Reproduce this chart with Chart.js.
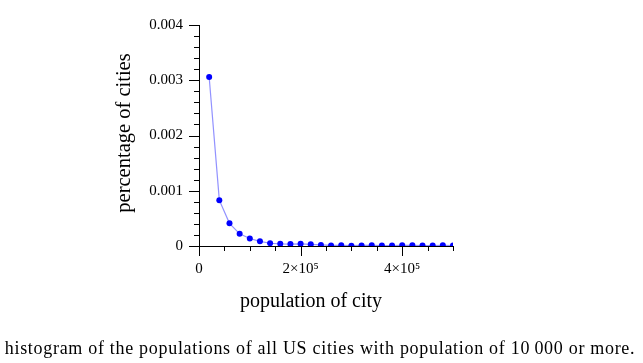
<!DOCTYPE html>
<html>
<head>
<meta charset="utf-8">
<script src="https://cdn.jsdelivr.net/npm/chart.js@4"></script>
<style>
  html, body { margin: 0; padding: 0; background: #fff; }
</style>
</head>
<body>
<canvas id="chart" width="643" height="363"></canvas>
<script>
// Histogram of US city populations (bins of 20 000)
const populations = [20000, 40000, 60000, 80000, 100000, 120000, 140000, 160000, 180000, 200000,
                     220000, 240000, 260000, 280000, 300000, 320000, 340000, 360000, 380000, 400000,
                     420000, 440000, 460000, 480000, 500000];
const shares = [0.00306, 0.00083, 0.00041, 0.00022, 0.000135, 0.000085, 0.00005, 0.00004, 0.000035, 0.00004,
                0.00003, 0.00002, 0.00001, 0.000012, 0.000005, 0.00001, 0.000012, 0.000008, 0.000008, 0.000012,
                0.000012, 0.000008, 0.000008, 0.000012, 0.000008];

const xLabelValues = [0, 200000, 400000];
const xLabelTexts = ['0', '2×10⁵', '4×10⁵'];
const yLabelValues = [0, 0.001, 0.002, 0.003, 0.004];
const yLabelTexts = ['0', '0.001', '0.002', '0.003', '0.004'];

const xTitle = 'population of city';
const yTitle = 'percentage of cities';
const caption = 'histogram of the populations of all US cities with population of 10\u2009000 or more.';

const SERIF = '"Liberation Serif", "DejaVu Serif", serif';

function labelIndex(value, values, eps) {
    return values.findIndex(v => Math.abs(v - value) < eps);
}

// --- Tick marks and titles ---

const axisDecor = {
    id: 'axisDecor',
    afterDraw(chart) {
        const { ctx, scales: { x, y } } = chart;
        ctx.save();
        ctx.strokeStyle = '#000';
        ctx.lineWidth = 1;
        ctx.beginPath();
        x.ticks.forEach(t => {
            const px = Math.round(x.getPixelForValue(t.value)) + 0.5;
            const major = labelIndex(t.value, xLabelValues, 1) >= 0;
            ctx.moveTo(px, x.top);
            ctx.lineTo(px, x.top + (major ? 10 : 5));
        });
        y.ticks.forEach(t => {
            const py = Math.round(y.getPixelForValue(t.value)) + 0.5;
            const major = labelIndex(t.value, yLabelValues, 1e-7) >= 0;
            ctx.moveTo(y.right, py);
            ctx.lineTo(y.right - (major ? 10 : 5), py);
        });
        ctx.stroke();

        ctx.fillStyle = '#000';
        ctx.textAlign = 'center';
        ctx.textBaseline = 'middle';
        ctx.font = '20px ' + SERIF;
        ctx.fillText(xTitle, 311, 302);

        ctx.textBaseline = 'alphabetic';
        ctx.font = '18px ' + SERIF;
        ctx.letterSpacing = '0.7px';
        ctx.fillText(caption, 320, 354);
        ctx.letterSpacing = '0px';

        ctx.translate(125, 133);
        ctx.rotate(-Math.PI / 2);
        ctx.textBaseline = 'middle';
        ctx.font = '20.5px ' + SERIF;
        ctx.fillText(yTitle, 0, 0);
        ctx.restore();
    }
};

const ctx = document.getElementById('chart').getContext('2d');
new Chart(ctx, {
    type: 'line',
    data: {
        datasets: [{
            data: populations.map((p, i) => ({ x: p, y: shares[i] })),
            borderColor: 'rgba(110, 110, 255, 0.75)',
            borderWidth: 1.2,
            pointBackgroundColor: '#0000ff',
            pointBorderColor: '#0000ff',
            pointRadius: 3,
            pointBorderWidth: 0,
            tension: 0,
        }]
    },
    options: {
        responsive: false,
        animation: false,
        layout: { padding: { left: 0, top: 25, right: 190, bottom: 0 } },
        plugins: {
            legend: { display: false },
            tooltip: { enabled: false },
        },
        scales: {
            x: {
                type: 'linear',
                min: 0,
                max: 500000,
                afterFit: s => { s.height = 117; },
                grid: { display: false, drawTicks: false },
                border: { display: true, color: '#000', width: 1 },
                ticks: {
                    stepSize: 50000,
                    autoSkip: false,
                    maxRotation: 0,
                    padding: 14,
                    color: '#000',
                    font: { family: SERIF, size: 15 },
                    callback: v => {
                        const i = labelIndex(v, xLabelValues, 1);
                        return i >= 0 ? xLabelTexts[i] : '';
                    }
                }
            },
            y: {
                type: 'linear',
                min: 0,
                max: 0.004,
                afterFit: s => { s.width = 199; },
                grid: { display: false, drawTicks: false },
                border: { display: true, color: '#000', width: 1 },
                ticks: {
                    stepSize: 0.0002,
                    autoSkip: false,
                    padding: 16,
                    color: '#000',
                    font: { family: SERIF, size: 15 },
                    callback: v => {
                        const i = labelIndex(v, yLabelValues, 1e-7);
                        return i >= 0 ? yLabelTexts[i] : '';
                    }
                }
            }
        }
    },
    plugins: [axisDecor]
});
</script>
</body>
</html>
